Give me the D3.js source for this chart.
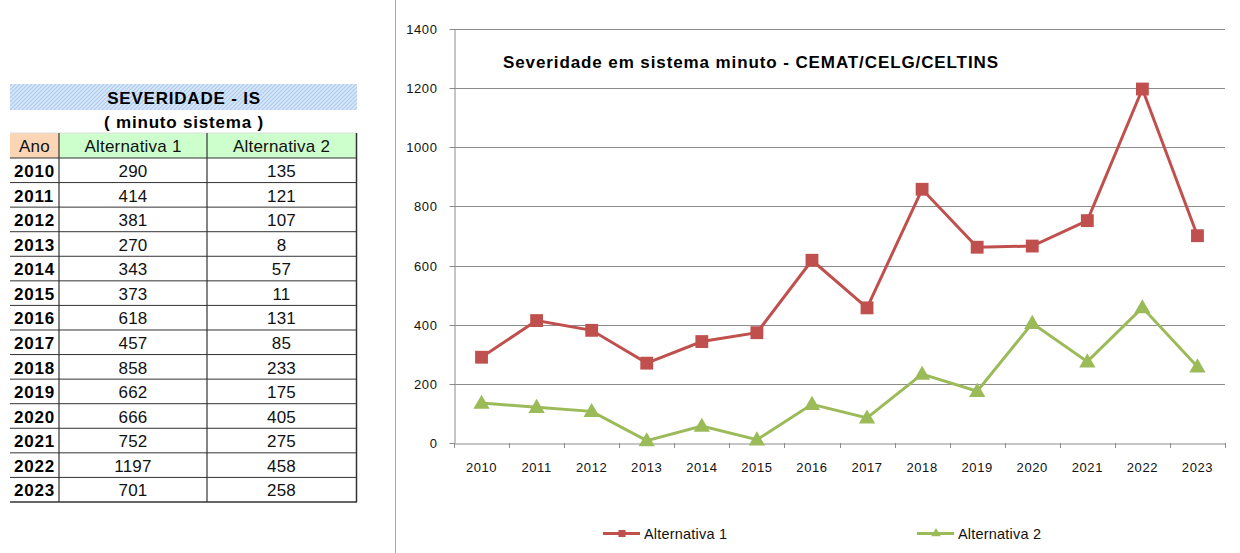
<!DOCTYPE html>
<html><head><meta charset="utf-8">
<script src="https://cdn.jsdelivr.net/npm/d3@7"></script>
<style>body{margin:0;background:#fff}svg{display:block;font-family:"Liberation Sans",Arial,sans-serif}</style>
</head><body><svg id="c" width="1240" height="553"></svg>
<script>
const years = [2010,2011,2012,2013,2014,2015,2016,2017,2018,2019,2020,2021,2022,2023];
const alt1 = [290,414,381,270,343,373,618,457,858,662,666,752,1197,701];
const alt2 = [135,121,107,8,57,11,131,85,233,175,405,275,458,258];
const seriesNames = ["Alternativa 1","Alternativa 2"];
const yTicks = [0,200,400,600,800,1000,1200,1400];
const tableTitle = "SEVERIDADE - IS";
const tableSubtitle = "( minuto sistema )";
const chartTitle = "Severidade em sistema minuto - CEMAT/CELG/CELTINS";

const svg = d3.select("#c");
const defs = svg.append("defs");
const pat = defs.append("pattern").attr("id","hatch").attr("width",4).attr("height",4)
  .attr("patternUnits","userSpaceOnUse");
pat.append("rect").attr("width",4).attr("height",4).attr("fill","#d9e8f9");
pat.append("path").attr("d","M-1,1 l2,-2 M0,4 l4,-4 M3,5 l2,-2").attr("stroke","#aecbef").attr("stroke-width",1.2);

// ---------- Table ----------
const tX = [10,59,207,356];
const hdrTop = 133, rowH = 24.57, bodyTop = 158;
const tg = svg.append("g");
const boldTxt = sel => sel.attr("font-weight","bold").attr("font-size",17).attr("letter-spacing",0.8).attr("fill","#000");
const normTxt = sel => sel.attr("font-size",17).attr("letter-spacing",0.2).attr("fill","#111");
tg.append("rect").attr("x",10).attr("y",84).attr("width",347).attr("height",26).attr("fill","url(#hatch)");
tg.append("text").attr("x",184).attr("y",103.5).attr("text-anchor","middle").call(boldTxt).text(tableTitle);
tg.append("text").attr("x",184).attr("y",128).attr("text-anchor","middle").call(boldTxt).text(tableSubtitle);
const hdrCols = [{t:"Ano",f:"#fcd5b4"},{t:seriesNames[0],f:"#ccffcc"},{t:seriesNames[1],f:"#ccffcc"}];
hdrCols.forEach((h,i)=>{
  tg.append("rect").attr("x",tX[i]).attr("y",hdrTop).attr("width",tX[i+1]-tX[i]).attr("height",bodyTop-hdrTop).attr("fill",h.f);
  tg.append("text").attr("x",(tX[i]+tX[i+1])/2).attr("y",hdrTop+19).attr("text-anchor","middle").call(normTxt).text(h.t);
});
years.forEach((y,i)=>{
  const ty = bodyTop + i*rowH;
  tg.append("text").attr("x",14).attr("y",ty+19).call(boldTxt).text(y);
  tg.append("text").attr("x",(tX[1]+tX[2])/2).attr("y",ty+19).attr("text-anchor","middle").call(normTxt).text(alt1[i]);
  tg.append("text").attr("x",(tX[2]+tX[3])/2).attr("y",ty+19).attr("text-anchor","middle").call(normTxt).text(alt2[i]);
});
for(let i=0;i<=years.length;i++){
  const ly = bodyTop + i*rowH;
  tg.append("line").attr("x1",10).attr("x2",357).attr("y1",ly).attr("y2",ly).attr("stroke","#333").attr("stroke-width",i===years.length?1.5:1);
}
tg.append("line").attr("x1",10).attr("x2",357).attr("y1",hdrTop).attr("y2",hdrTop).attr("stroke","#ddd").attr("stroke-width",1);
[1,2].forEach(i=>tg.append("line").attr("x1",tX[i]).attr("x2",tX[i]).attr("y1",hdrTop).attr("y2",bodyTop+years.length*rowH).attr("stroke","#333").attr("stroke-width",1.2));
tg.append("line").attr("x1",356.5).attr("x2",356.5).attr("y1",hdrTop).attr("y2",bodyTop+years.length*rowH).attr("stroke","#333").attr("stroke-width",1.5);

// ---------- Chart ----------
svg.append("line").attr("x1",395.5).attr("x2",395.5).attr("y1",0).attr("y2",553).attr("stroke","#aaa");
const L = 454, R = 1225, T = 29, B = 443;
const x = d3.scaleBand().domain(years).range([L,R]);
const y = d3.scaleLinear().domain([0,1400]).range([B,T]);
const g = svg.append("g");
const axFont = sel => sel.attr("font-size",13).attr("letter-spacing",0.6).attr("font-family","Liberation Sans, Arial, sans-serif").attr("fill","#111");
g.selectAll(".grid").data(yTicks.slice(1)).join("line")
  .attr("x1",L).attr("x2",R).attr("y1",d=>Math.round(y(d))+0.5).attr("y2",d=>Math.round(y(d))+0.5)
  .attr("stroke","#8c8c8c").attr("stroke-width",1);
const ya = g.append("g").attr("transform",`translate(${L+0.5},0)`)
  .call(d3.axisLeft(y).tickValues(yTicks).tickFormat(d3.format("d")).tickSize(5).tickSizeOuter(0).tickPadding(12));
ya.select(".domain").attr("stroke","#8c8c8c");
ya.selectAll(".tick line").attr("stroke","#8c8c8c");
ya.selectAll("text").call(axFont);
ya.selectAll(".tick").attr("transform",d=>`translate(0,${Math.round(y(d))+0.5})`);
const xa = g.append("g").attr("transform",`translate(0,${B+0.5})`).call(d3.axisBottom(x).tickSize(0).tickPadding(19));
xa.select(".domain").attr("stroke","#8c8c8c");
xa.selectAll("text").call(axFont);
const bounds = years.map(d=>x(d)).concat([R]);
g.selectAll(".xt").data(bounds).join("line").attr("x1",d=>Math.round(d)+0.5).attr("x2",d=>Math.round(d)+0.5)
  .attr("y1",B).attr("y2",B+5).attr("stroke","#8c8c8c");

const cx = d => x(d)+x.bandwidth()/2;
const red = "#c0504d", green = "#9bbb59";
const line = d3.line().x((d,i)=>cx(years[i])).y(d=>y(d));
g.append("path").datum(alt1).attr("d",line).attr("fill","none").attr("stroke",red).attr("stroke-width",3);
g.append("path").datum(alt2).attr("d",line).attr("fill","none").attr("stroke",green).attr("stroke-width",3);
const sq = d3.symbol().type(d3.symbolSquare).size(165);
const tri = d3.symbol().type(d3.symbolTriangle).size(115);
g.selectAll(".m1").data(alt1).join("path").attr("d",sq).attr("fill",red)
  .attr("transform",(d,i)=>`translate(${cx(years[i])},${y(d)})`);
g.selectAll(".m2").data(alt2).join("path").attr("d",tri).attr("fill",green)
  .attr("transform",(d,i)=>`translate(${cx(years[i])},${y(d)+1})`);

g.append("text").attr("x",503).attr("y",68).attr("font-weight","bold").attr("font-size",17).attr("letter-spacing",0.9).attr("fill","#000").text(chartTitle);

const leg = [{n:seriesNames[0],c:red,x0:603,s:d3.symbol().type(d3.symbolSquare).size(50)},
             {n:seriesNames[1],c:green,x0:917,s:d3.symbol().type(d3.symbolTriangle).size(40)}];
leg.forEach(l=>{
  g.append("line").attr("x1",l.x0).attr("x2",l.x0+37).attr("y1",533.5).attr("y2",533.5).attr("stroke",l.c).attr("stroke-width",3);
  g.append("path").attr("d",l.s).attr("fill",l.c).attr("transform",`translate(${l.x0+19},533.5)`);
  g.append("text").attr("x",l.x0+41).attr("y",538.5).attr("font-size",14.5).attr("letter-spacing",0.2).attr("fill","#111").text(l.n);
});
</script></body></html>
